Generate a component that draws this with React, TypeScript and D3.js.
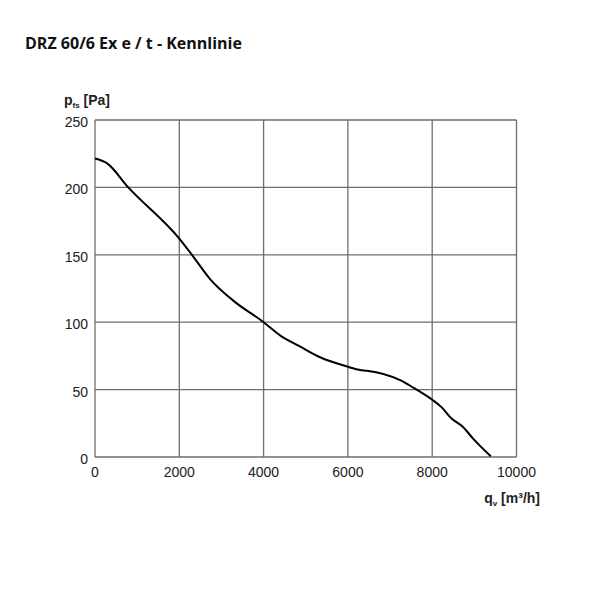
import React, { useEffect, useRef } from 'react';
import * as d3 from 'd3';

// fan curve
const flowRate = [0, 280, 790, 2000, 2300, 2730, 3280, 4000, 4400, 4860, 5340, 6000, 6290, 6450, 7240, 7550, 8000, 8220, 8460, 8730, 8970, 9390];
const staticPressure = [221.5, 218, 200, 162, 150, 132, 116, 100, 90, 82, 74, 67, 64.5, 64, 57, 51.5, 42.5, 37, 28.5, 22.3, 13.6, 0.5];
const xTicks = [0, 2000, 4000, 6000, 8000, 10000];
const yTicks = [0, 50, 100, 150, 200, 250];

const App: React.FC = () => {
  const chartRef = useRef<SVGSVGElement | null>(null);

  useEffect(() => {
    const left = 95, right = 516.5, top = 120, bottom = 457;
    const svg = d3.select(chartRef.current);
    svg.selectAll('*').remove();

    const x = d3.scaleLinear().domain([0, 10000]).range([left, right]);
    const y = d3.scaleLinear().domain([0, 250]).range([bottom, top]);

    svg.append('rect').attr('width', 600).attr('height', 600).attr('fill', '#fff');

    svg.append('text')
      .attr('x', 25)
      .attr('y', 49)
      .style('font-family', '"Open Sans", sans-serif')
      .style('font-weight', 700)
      .style('font-size', '16px')
      .attr('fill', '#111')
      .text('DRZ 60/6 Ex e / t - Kennlinie');

    const grid = svg.append('g').attr('stroke', '#6e6e6e').attr('stroke-width', 1.3);
    xTicks.forEach(t => {
      grid.append('line').attr('x1', x(t)).attr('x2', x(t)).attr('y1', top).attr('y2', bottom);
    });
    yTicks.forEach(t => {
      grid.append('line').attr('x1', left).attr('x2', right).attr('y1', y(t)).attr('y2', y(t));
    });

    const tickFont = '"Liberation Sans", Arial, sans-serif';
    svg.append('g').selectAll('text').data(yTicks).enter().append('text')
      .attr('x', 88)
      .attr('y', d => y(d) + 2)
      .attr('dy', '0.35em')
      .attr('text-anchor', 'end')
      .style('font-family', tickFont)
      .style('font-size', '14px')
      .attr('fill', '#222')
      .text(d => d);

    svg.append('g').selectAll('text').data(xTicks).enter().append('text')
      .attr('x', d => x(d))
      .attr('y', 477)
      .attr('text-anchor', 'middle')
      .style('font-family', tickFont)
      .style('font-size', '14px')
      .attr('fill', '#222')
      .text(d => d);

    // axis titles
    const yLab = svg.append('text')
      .attr('x', 64)
      .attr('y', 105)
      .style('font-family', tickFont)
      .style('font-weight', 700)
      .style('font-size', '14px')
      .attr('fill', '#222');
    yLab.append('tspan').text('p');
    yLab.append('tspan').attr('dy', 3).style('font-size', '8px').text('fs');
    yLab.append('tspan').attr('dy', -3).text(' [Pa]');

    const xLab = svg.append('text')
      .attr('x', 540)
      .attr('y', 503)
      .attr('text-anchor', 'end')
      .style('font-family', tickFont)
      .style('font-weight', 700)
      .style('font-size', '14px')
      .attr('fill', '#222');
    xLab.append('tspan').text('q');
    xLab.append('tspan').attr('dy', 3).style('font-size', '8px').text('v');
    xLab.append('tspan').attr('dy', -3).text(' [m³/h]');

    const line = d3.line<number>()
      .x((_, i) => x(flowRate[i]))
      .y(d => y(d))
      .curve(d3.curveMonotoneX);

    svg.append('path')
      .datum(staticPressure)
      .attr('d', line)
      .attr('fill', 'none')
      .attr('stroke', '#000')
      .attr('stroke-width', 2);
  }, []);

  return (
    <div>
      <svg ref={chartRef} width={600} height={600} style={{ position: 'absolute', left: 0, top: 0 }}></svg>
    </div>
  );
};

export default App;
